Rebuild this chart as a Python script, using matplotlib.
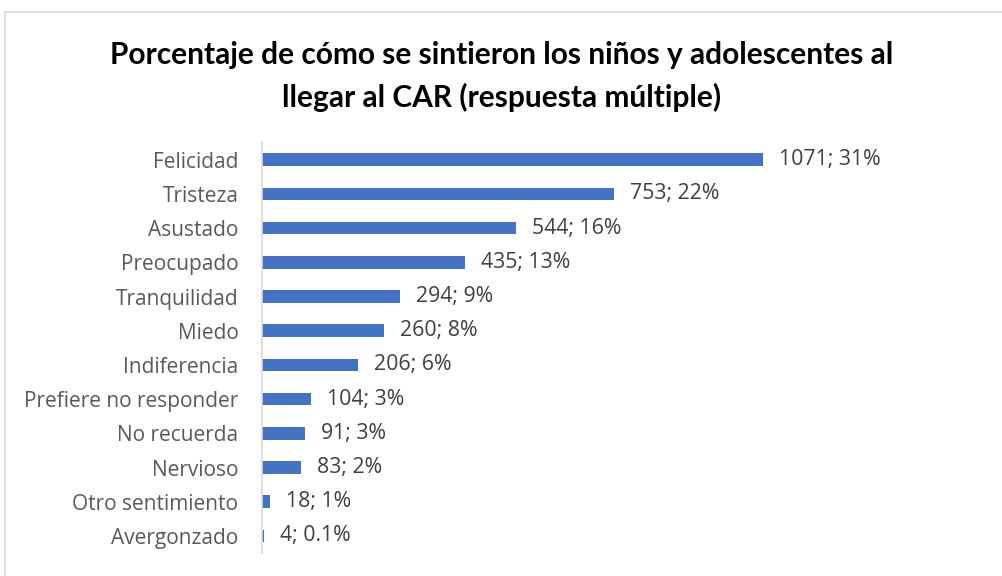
import matplotlib.pyplot as plt
from matplotlib.patches import Rectangle

sentimientos = ['Felicidad', 'Tristeza', 'Asustado', 'Preocupado', 'Tranquilidad',
                'Miedo', 'Indiferencia', 'Prefiere no responder', 'No recuerda',
                'Nervioso', 'Otro sentimiento', 'Avergonzado']
casos = [1071, 753, 544, 435, 294, 260, 206, 104, 91, 83, 18, 4]
porcentajes = ['31%', '22%', '16%', '13%', '9%', '8%', '6%', '3%', '3%', '2%', '1%', '0.1%']

W, H = 1003, 576
fig = plt.figure(figsize=(W / 100, H / 100), dpi=100)

# marco gris alrededor del gráfico
fig.patches.append(Rectangle((5 / W, -0.1), 1.2, 1.1 - 12 / H, transform=fig.transFigure,
                             fill=False, edgecolor='#d9d9d9', linewidth=1.2))

ax = fig.add_axes([262 / W, 23 / H, 638 / W, 411 / H])
y = range(len(sentimientos))
ax.barh(y, casos, height=0.37, color='#4472c4')
ax.set_xlim(0, 638 / 0.4678)
ax.set_ylim(11.5, -0.52)

for i, (c, p) in enumerate(zip(casos, porcentajes)):
    ax.annotate(f'{c}; {p}', (c, i), xytext=(11.5, 0), textcoords='offset points',
                va='center', ha='left', fontsize=15.3, color='#404040', family='Open Sans')

ax.set_yticks(list(y))
ax.set_yticklabels(sentimientos, fontsize=15, color='#595959', family='Open Sans')
ax.tick_params(axis='y', length=0, pad=17)
ax.set_xticks([])
for s in ['top', 'right', 'bottom']:
    ax.spines[s].set_visible(False)
ax.spines['left'].set_color('#d9d9d9')
ax.spines['left'].set_linewidth(1.2)

fig.text(0.5, 1 - 55 / H, 'Porcentaje de cómo se sintieron los niños y adolescentes al',
         ha='center', va='center', fontsize=21.5, fontweight='bold', family='Lato', color='black')
fig.text(0.5, 1 - 97 / H, 'llegar al CAR (respuesta múltiple)',
         ha='center', va='center', fontsize=21.5, fontweight='bold', family='Lato', color='black')

fig.savefig('out.png', dpi=100)
